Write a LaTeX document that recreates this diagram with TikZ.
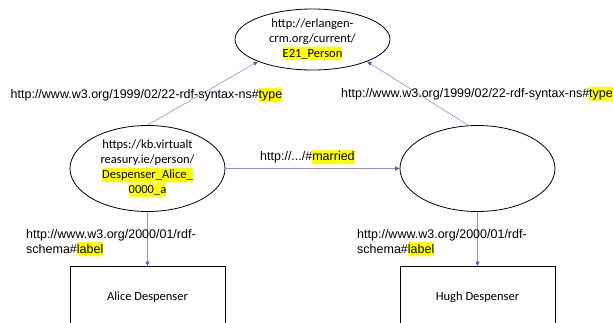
\documentclass[tikz,border=0pt]{standalone}
\usepackage{fontspec}
\usetikzlibrary{shapes.geometric,arrows.meta}
\newfontfamily\labfont{Liberation Sans}
\newfontfamily\calfont{Carlito}
\definecolor{linepurple}{HTML}{A884D8}
\definecolor{tippurple}{HTML}{7A48B8}
\definecolor{hlyellow}{HTML}{FFFF00}
\newcommand\hlt[1]{{\setlength{\fboxsep}{0pt}\colorbox{hlyellow}{\rule[-0.24em]{0pt}{1.1em}#1}}}
\begin{document}
\begin{tikzpicture}[x=1pt,y=-1pt,
  ell/.style={ellipse,draw=black,line width=0.8pt,inner sep=0pt,minimum width=155pt},
  box/.style={rectangle,draw=black,line width=0.8pt,inner sep=0pt,minimum width=155pt,minimum height=62pt,anchor=north,font=\calfont\fontsize{12.5}{15}\selectfont},
  ntext/.style={align=center,inner sep=0pt,font=\calfont\fontsize{12.5}{15}\selectfont},
  elabel/.style={inner sep=0pt,anchor=west,align=left,font=\labfont\fontsize{12.5}{15}\selectfont},
  conn/.style={draw=linepurple,line width=0.6pt,-{Triangle[length=4.5pt,width=4pt,color=tippurple]}}]
\useasboundingbox (0,0) rectangle (613,322);
\clip (0,0) rectangle (613,322);
\fill[white] (0,0) rectangle (613,322);
% nodes
\node[ell,minimum height=61pt] (person) at (312.5,39.5) {};
\node[ntext] (persontext) at (person.center) {http://erlangen-\\crm.org/current/\\\hlt{E21\_Person}};
\node[ell,minimum height=86pt] (alice) at (147.5,168.5) {};
\node[ntext] (alicetext) at (alice.center) {https://kb.virtualt\\reasury.ie/person/\\\hlt{Despenser\_Alice\_}\\\hlt{0000\_a}};
\node[ell,minimum height=86pt] (hugh) at (477.5,168.5) {};
\node[box] (alicebox) at (147.5,266) {Alice Despenser};
\node[box] (hughbox) at (477.5,266) {Hugh Despenser};
% connectors
\draw[conn] (alice.north) -- (person.202);
\draw[conn] (hugh.102) -- (person.338.5);
\draw[conn] (alice.east) -- (hugh.west);
\draw[conn] (alice.south) -- (alicebox.north);
\draw[conn] (hugh.south) -- (hughbox.north);
% labels
\node[elabel] (ltype) at (10.5,95) {http://www.w3.org/1999/02/22-rdf-syntax-ns\#\hlt{type}};
\node[elabel] (rtype) at (341,94) {http://www.w3.org/1999/02/22-rdf-syntax-ns\#\hlt{type}};
\node[elabel] (married) at (260,157) {http://.../\#\hlt{married}};
\node[elabel] (llabel) at (26,242.5) {http://www.w3.org/2000/01/rdf-\\schema\#\hlt{label}};
\node[elabel] (rlabel) at (357,242.5) {http://www.w3.org/2000/01/rdf-\\schema\#\hlt{label}};
\end{tikzpicture}
\end{document}
